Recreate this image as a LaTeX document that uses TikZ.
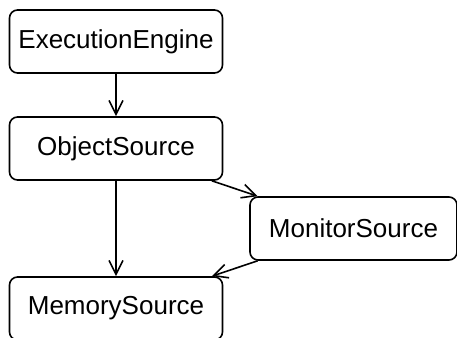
\documentclass[tikz,border=0pt]{standalone}
\usepackage{fontspec}
\setmainfont{Liberation Sans}
\usetikzlibrary{arrows.meta}
\begin{document}
\begin{tikzpicture}[x=1pt,y=-1pt,
  cls/.style={draw, line width=1.6pt, rounded corners=8pt, rectangle,
    minimum height=63pt, inner sep=0pt, font=\fontsize{26}{30}\selectfont},
  dep/.style={line width=1.6pt, -{Straight Barb[length=14pt,width=14pt,line width=1.6pt]}}]
  \useasboundingbox (0,0) rectangle (457,337);
  \node[cls, minimum width=213pt] (ee)  at (116,41.5)  {ExecutionEngine};
  \node[cls, minimum width=213pt] (os)  at (116,148.5) {ObjectSource};
  \node[cls, minimum width=207pt] (mon) at (353.5,228.5) {MonitorSource};
  \node[cls, minimum width=213pt] (mem) at (116,308.5) {MemorySource};
  \draw[dep] (ee) -- (os);
  \draw[dep] (os) -- (mem);
  \draw[dep] (os) -- (mon);
  \draw[dep] (mon) -- (mem);
\end{tikzpicture}
\end{document}
